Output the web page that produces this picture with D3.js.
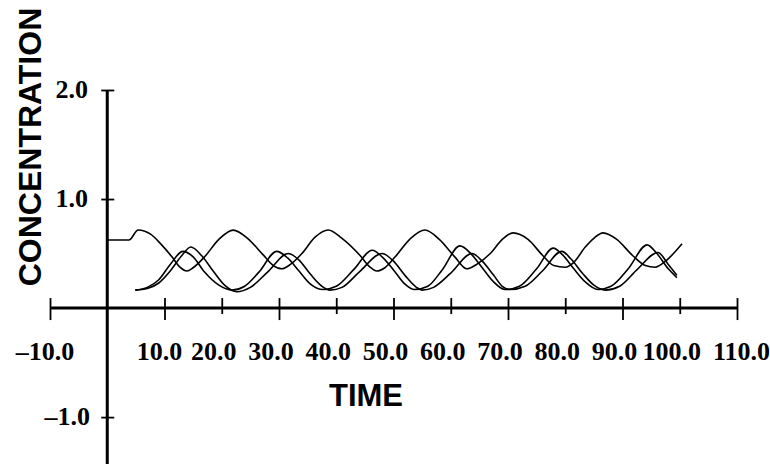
<!DOCTYPE html>
<html>
<head>
<meta charset="utf-8">
<script src="https://cdn.jsdelivr.net/npm/d3@7"></script>
<style>
  html, body { margin: 0; padding: 0; background: #fff; }
  svg { display: block; }
  .tick-label { font-family: "Liberation Serif", "Times New Roman", serif; font-weight: bold; font-size: 26px; fill: #000; }
  .axis-title { font-family: "Liberation Sans", Arial, sans-serif; font-weight: bold; fill: #000; }
</style>
</head>
<body>
<div id="chart"></div>
<script>
// tick values
const xTicks = [-10, 10, 20, 30, 40, 50, 60, 70, 80, 90, 100, 110];
const yTicks = [-1, 1, 2];

// [time, concentration]
const seriesA = [
    [0, 0.624], [3.8, 0.624], [5.4, 0.716], [7.5, 0.68], [9.5, 0.58], [11.3, 0.47], [12.6, 0.38],
    [13.9, 0.34], [15, 0.37], [17, 0.47], [19.5, 0.63], [22, 0.715], [24.5, 0.64], [27.2, 0.49],
    [29, 0.39], [30.5, 0.36], [32, 0.40], [34, 0.50], [36.3, 0.65], [38.6, 0.716], [41, 0.64],
    [44.2, 0.48], [45.8, 0.38], [47.1, 0.34], [48.5, 0.37], [50.3, 0.47], [53, 0.64], [55.5, 0.716],
    [58, 0.63], [60.7, 0.47], [62.8, 0.36], [64.5, 0.40], [66.9, 0.50], [69, 0.63], [70.9, 0.69],
    [73.5, 0.63], [76.1, 0.48], [78, 0.39], [80, 0.375], [81.5, 0.42], [83.5, 0.56], [85, 0.64],
    [86.6, 0.69], [89, 0.63], [91.8, 0.48], [94, 0.39], [95.7, 0.375], [97.5, 0.43], [100.4, 0.59]
];

const seriesB = [
    [4.9, 0.165], [7, 0.19], [9, 0.26], [11, 0.40], [13.2, 0.52], [15, 0.47], [17, 0.33],
    [19.5, 0.21], [21.8, 0.165], [24, 0.2], [26.5, 0.33], [29.6, 0.52], [31.5, 0.46], [33.5, 0.34],
    [35.5, 0.22], [37.7, 0.17], [40, 0.2], [43, 0.35], [46.3, 0.53], [48, 0.47], [50, 0.35],
    [52, 0.22], [53.7, 0.17], [56, 0.2], [58.5, 0.35], [61.6, 0.57], [63.5, 0.5], [65.5, 0.37],
    [67.5, 0.24], [69.5, 0.17], [72, 0.2], [75, 0.36], [77.9, 0.55], [79.5, 0.49], [81.5, 0.36],
    [83.5, 0.24], [85.7, 0.17], [88, 0.2], [91, 0.36], [94.3, 0.58], [96, 0.5], [98, 0.36], [99.5, 0.28]
];

const seriesC = [
    [4.9, 0.165], [7, 0.18], [9, 0.23], [11, 0.34], [13, 0.48], [14.6, 0.56], [16.5, 0.48],
    [18.5, 0.34], [20.5, 0.21], [22.6, 0.15], [25, 0.19], [28, 0.33], [31.6, 0.50], [33.5, 0.44],
    [35.5, 0.31], [37.5, 0.2], [38.9, 0.165], [41, 0.19], [44, 0.33], [48, 0.50], [50, 0.43],
    [52, 0.3], [54, 0.19], [55, 0.165], [57, 0.19], [60, 0.32], [63.7, 0.5], [65.5, 0.43],
    [67.5, 0.3], [69, 0.2], [70.4, 0.17], [73, 0.2], [76, 0.34], [79.4, 0.52], [81, 0.45],
    [83, 0.32], [85, 0.21], [87, 0.165], [89.5, 0.2], [92.5, 0.35], [96.2, 0.51], [98, 0.4], [99.5, 0.3]
];

const width = 770;
const height = 464;

const x = d3.scaleLinear().domain([-10, 110]).range([50, 737]);
const y = d3.scaleLinear().domain([-1.43, 2.0]).range([464, 90]);

const fmt = (d) => (d < 0 ? '\u2013' : '') + Math.abs(d).toFixed(1);

const svg = d3.select('#chart')
    .append('svg')
    .attr('width', width)
    .attr('height', height);

// x axis
const xAxis = svg.append('g')
    .attr('transform', `translate(0,${y(0)})`)
    .call(d3.axisBottom(x).tickValues(xTicks).tickSizeOuter(0).tickFormat(''));

xAxis.select('.domain').remove();
xAxis.selectAll('.tick line')
    .attr('y1', -10)
    .attr('y2', (d) => (Math.round(d / 10) % 2 !== 0 ? 12 : 6))
    .attr('stroke', '#000')
    .attr('stroke-width', 1.8);

svg.append('line')
    .attr('x1', x(-10)).attr('x2', x(110))
    .attr('y1', y(0)).attr('y2', y(0))
    .attr('stroke', '#000')
    .attr('stroke-width', 3);

// labels sit a little left of their ticks; the last one is pushed to the right edge
const lastTick = xTicks[xTicks.length - 1];
svg.append('g')
    .selectAll('text')
    .data(xTicks)
    .join('text')
    .attr('class', 'tick-label')
    .attr('x', (d) => (d === lastTick ? width : x(d) - (d <= 10 ? 5 : 8)))
    .attr('y', 360)
    .attr('text-anchor', (d) => (d === lastTick ? 'end' : 'middle'))
    .text(fmt);

// y axis
const yAxis = svg.append('g')
    .attr('transform', `translate(${x(0)},0)`)
    .call(d3.axisLeft(y).tickValues(yTicks).tickSizeOuter(0).tickFormat(''));

yAxis.select('.domain').remove();
yAxis.selectAll('.tick line')
    .attr('x1', -6)
    .attr('x2', 7)
    .attr('stroke', '#000')
    .attr('stroke-width', 1.8);

svg.append('line')
    .attr('x1', x(0)).attr('x2', x(0))
    .attr('y1', y(2.0)).attr('y2', height)
    .attr('stroke', '#000')
    .attr('stroke-width', 3);

svg.append('g')
    .selectAll('text')
    .data(yTicks)
    .join('text')
    .attr('class', 'tick-label')
    .attr('x', (d) => (d < 0 ? 90 : 88))
    .attr('y', (d) => y(d) + 8)
    .attr('text-anchor', 'end')
    .text(fmt);

// axis titles
svg.append('text')
    .attr('class', 'axis-title')
    .attr('transform', 'translate(41,147) rotate(-90)')
    .attr('text-anchor', 'middle')
    .style('font-size', '32px')
    .text('CONCENTRATION');

svg.append('text')
    .attr('class', 'axis-title')
    .attr('x', 366)
    .attr('y', 406)
    .attr('text-anchor', 'middle')
    .style('font-size', '31px')
    .text('TIME');

// curves
const line = d3.line()
    .x((d) => x(d[0]))
    .y((d) => y(d[1]))
    .curve(d3.curveMonotoneX);

svg.append('g')
    .selectAll('path')
    .data([seriesA, seriesB, seriesC])
    .join('path')
    .attr('d', line)
    .attr('fill', 'none')
    .attr('stroke', '#000')
    .attr('stroke-width', 1.6);
</script>
</body>
</html>
